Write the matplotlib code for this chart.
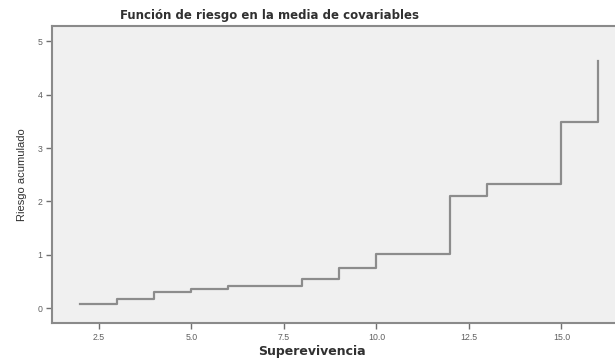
import matplotlib
matplotlib.use("Agg")
import matplotlib.pyplot as plt

# tiempos y riesgo acumulado
tiempos = [2, 3, 4, 5, 6, 8, 9, 10, 12, 13, 15, 16]
riesgo = [0.08, 0.17, 0.31, 0.36, 0.41, 0.54, 0.75, 1.01, 2.10, 2.33, 3.49, 4.63]
xticks = [2.5, 5.0, 7.5, 10.0, 12.5, 15.0]
yticks = [0, 1, 2, 3, 4, 5]

plt.rcParams["font.family"] = ["Liberation Sans", "DejaVu Sans"]

fig = plt.figure(figsize=(6.15, 3.58), dpi=100)
ax = fig.add_axes([52 / 615, 1 - 323 / 358, 1 - 52 / 615, (323 - 26) / 358])
ax.set_facecolor("#f0f0f0")

ax.plot(tiempos, riesgo, drawstyle="steps-post", color="#8c8c8c", lw=1.6)

ax.set_xlim(1.23, 16.45)
ax.set_ylim(-0.28, 5.29)
ax.set_xticks(xticks)
ax.set_xticklabels(["%.1f" % t for t in xticks])
ax.set_yticks(yticks)

for s in ["left", "bottom", "top"]:
    ax.spines[s].set_color("#8a8a8a")
    ax.spines[s].set_linewidth(1.5)
ax.spines["right"].set_visible(False)
ax.tick_params(axis="both", direction="out", length=4, width=1, color="#707070",
               labelsize=6.3, labelcolor="#606060", pad=3)

fig.text(270 / 615, 1 - 15 / 358, "Función de riesgo en la media de covariables",
         ha="center", va="center", fontsize=8.5, fontweight="bold", color="#303030",
         family="DejaVu Sans")
fig.text(312 / 615, 1 - 351 / 358, "Superevivencia", ha="center", va="center",
         fontsize=9, fontweight="bold", color="#303030", family="DejaVu Sans")
fig.text(22 / 615, 1 - 175 / 358, "Riesgo acumulado", ha="center", va="center",
         rotation=90, fontsize=8, color="#303030")

fig.savefig("out.png", dpi=100)
